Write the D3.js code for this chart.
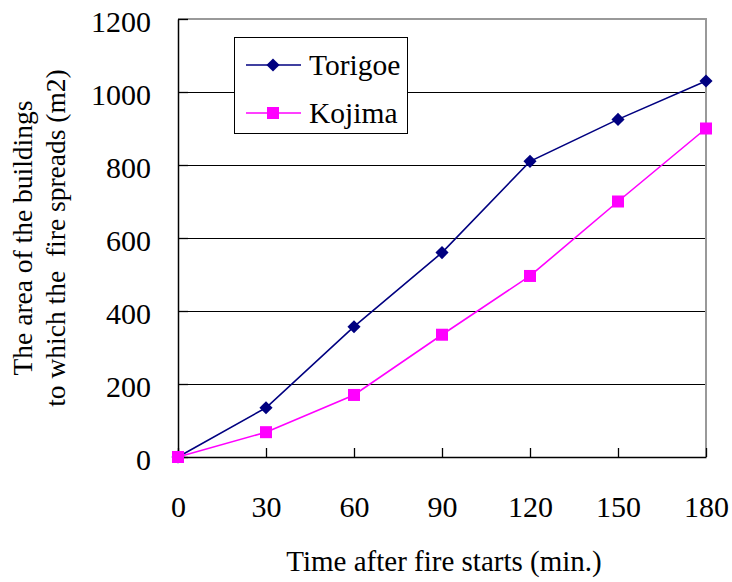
<!DOCTYPE html>
<html><head><meta charset="utf-8">
<script src="https://cdn.jsdelivr.net/npm/d3@7"></script>
<style>body{margin:0;background:#fff}svg{display:block}</style>
</head><body><div id="chart"></div>
<script>
const categories = [0, 30, 60, 90, 120, 150, 180];
const torigoe = [0, 135, 357, 560, 810, 925, 1030];
const kojima = [0, 68, 170, 335, 496, 700, 900];
const yTicks = [0, 200, 400, 600, 800, 1000, 1200];
const seriesNames = ["Torigoe", "Kojima"];
const xTitle = "Time after fire starts (min.)";
const yTitle1 = "The area of the buildings";
const yTitle2 = "to which the  fire spreads (m2)";

const W = 732, H = 582;
const m = {left: 178, top: 19, right: 706, bottom: 457};
const font = "'Liberation Serif', 'Times New Roman', serif";
const svg = d3.select("#chart").append("svg").attr("width", W).attr("height", H);

const x = d3.scaleLinear().domain([0, 180]).range([m.left, m.right]);
const y = d3.scaleLinear().domain([0, 1200]).range([m.bottom, m.top]);

// gridlines
svg.append("g").selectAll("line").data(yTicks.filter(d => d > 0 && d < 1200)).join("line")
  .attr("x1", m.left).attr("x2", m.right).attr("y1", d => y(d)).attr("y2", d => y(d))
  .attr("stroke", "#000").attr("stroke-width", 1).attr("shape-rendering", "crispEdges");

// plot border top/right gray
svg.append("path").attr("d", `M${m.left},${m.top}H${m.right}V${m.bottom}`)
  .attr("fill", "none").attr("stroke", "#999").attr("stroke-width", 2);

// axes
const xAxis = d3.axisBottom(x).tickValues(categories).tickSizeInner(-9).tickSizeOuter(0).tickPadding(0).tickFormat(d3.format("d"));
const gx = svg.append("g").attr("transform", `translate(0,${m.bottom})`).call(xAxis);
gx.select(".domain").attr("stroke", "#000").attr("stroke-width", 1.5);
gx.selectAll(".tick line").attr("stroke", "#000").attr("stroke-width", 1.3);
gx.selectAll(".tick text").attr("font-family", font).attr("font-size", 30).attr("fill", "#000")
  .attr("y", 0).attr("dy", "2em");

const yAxis = d3.axisLeft(y).tickValues(yTicks).tickSizeInner(-10).tickSizeOuter(0).tickPadding(27).tickFormat(d3.format("d"));
const gy = svg.append("g").attr("transform", `translate(${m.left},0)`).call(yAxis);
gy.select(".domain").attr("stroke", "#000").attr("stroke-width", 1.5);
gy.selectAll(".tick line").attr("stroke", "#000").attr("stroke-width", 1.3);
gy.selectAll(".tick text").attr("font-family", font).attr("font-size", 30).attr("fill", "#000").attr("dy", "0.42em");

// lines
const line = d3.line().x((d, i) => x(categories[i])).y(d => y(d));
const colors = ["#000080", "#ff00ff"];
[torigoe, kojima].forEach((s, k) => {
  svg.append("path").datum(s).attr("d", line).attr("fill", "none")
    .attr("stroke", colors[k]).attr("stroke-width", 1.6);
});
const diamond = d3.symbol().type(d3.symbolDiamond2).size(110);
svg.append("g").selectAll("path").data(torigoe).join("path")
  .attr("transform", (d, i) => `translate(${x(categories[i])},${y(d)})`)
  .attr("d", diamond).attr("fill", colors[0]);
svg.append("g").selectAll("rect").data(kojima).join("rect")
  .attr("x", (d, i) => x(categories[i]) - 6).attr("y", d => y(d) - 6)
  .attr("width", 12).attr("height", 12).attr("fill", colors[1]);

// legend
const lg = svg.append("g");
lg.append("rect").attr("x", 234.5).attr("y", 37.5).attr("width", 173).attr("height", 96)
  .attr("fill", "#fff").attr("stroke", "#000").attr("stroke-width", 1);
seriesNames.forEach((n, k) => {
  const cy = k === 0 ? 65 : 113;
  lg.append("line").attr("x1", 246).attr("x2", 301).attr("y1", cy).attr("y2", cy)
    .attr("stroke", colors[k]).attr("stroke-width", 1.6);
  if (k === 0) lg.append("path").attr("transform", `translate(273,${cy})`).attr("d", diamond).attr("fill", colors[0]);
  else lg.append("rect").attr("x", 267).attr("y", cy - 6).attr("width", 12).attr("height", 12).attr("fill", colors[1]);
  lg.append("text").attr("x", 309).attr("y", cy).attr("dy", "0.34em").attr("font-family", font)
    .attr("font-size", 29.5).text(n);
});

// titles
svg.append("text").attr("x", 444).attr("y", 571).attr("text-anchor", "middle")
  .attr("font-family", font).attr("font-size", 29).text(xTitle);
svg.append("text").attr("transform", "translate(32,238) rotate(-90)").attr("text-anchor", "middle")
  .attr("font-family", font).attr("font-size", 27.5).text(yTitle1);
svg.append("text").attr("transform", "translate(65,238) rotate(-90)").attr("text-anchor", "middle")
  .attr("font-family", font).attr("font-size", 27.5).attr("xml:space", "preserve").style("white-space", "pre").text(yTitle2);
</script></body></html>
